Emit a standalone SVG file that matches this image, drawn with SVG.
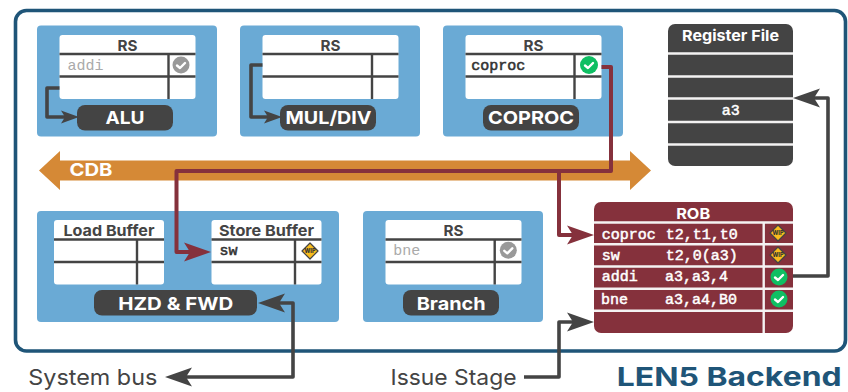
<svg xmlns="http://www.w3.org/2000/svg" width="848" height="392" viewBox="0 0 848 392">
<style>
.panel{fill:#6aaad5}
.tbl{fill:#fff}
.ln{stroke:#444;stroke-width:2.4;fill:none}
.wl{stroke:#f4f2f2;stroke-width:2.4;fill:none}
.pill{fill:#444}
text{font-family:Inter,"Liberation Sans",sans-serif;font-weight:700}
.h{font-size:15px;fill:#444;text-anchor:middle}
.hw{font-size:15px;fill:#fff;text-anchor:middle}
.p{font-size:18px;fill:#fff;text-anchor:middle}
.m{font-family:"Liberation Mono",monospace;font-size:15px;font-weight:400;fill:#333;stroke:#333;stroke-width:.55}
.mg{font-family:"Liberation Mono",monospace;font-size:15px;font-weight:400;fill:#aaa}
.mw{font-family:"Liberation Mono",monospace;font-size:15px;font-weight:400;fill:#fff;stroke:#fff;stroke-width:.5}
.lab{font-size:22px;font-weight:400;fill:#444}
.gc{stroke:#444;stroke-width:3.6;fill:none;stroke-linejoin:round}
.rc{stroke:#85313c;stroke-width:4;fill:none;stroke-linejoin:round}
.ck{stroke:#fff;stroke-width:2.4;fill:none;stroke-linecap:round;stroke-linejoin:round}
.wd{fill:#f9bc1c;stroke:#444;stroke-width:1.2;stroke-linejoin:round}
.wt{font-size:5.5px;font-weight:800;fill:#333;text-anchor:middle}
</style>
<defs>
<marker id="gs" markerUnits="userSpaceOnUse" markerWidth="20" markerHeight="14" viewBox="0 0 20 14" refX="5" refY="7" orient="auto-start-reverse"><path d="M0,.5L18,7L0,13.5L4,7z" fill="#444"/></marker>
<marker id="gb" markerUnits="userSpaceOnUse" markerWidth="28" markerHeight="20" viewBox="0 0 28 20" refX="8" refY="10" orient="auto-start-reverse"><path d="M0,.5L27,10L0,19.5L6,10z" fill="#444"/></marker>
<marker id="rb" markerUnits="userSpaceOnUse" markerWidth="28" markerHeight="20" viewBox="0 0 28 20" refX="8" refY="10" orient="auto-start-reverse"><path d="M0,.5L27,10L0,19.5L6,10z" fill="#85313c"/></marker>
</defs>

<rect id="frame" x="15.5" y="10.5" width="830" height="340.5" rx="11" fill="#fff" stroke="#1f5578" stroke-width="3.6"/>

<g id="alu-unit">
<rect class="panel" x="37" y="25.5" width="180" height="111" rx="4"/>
<rect class="tbl" x="59.5" y="35" width="136" height="64" rx="3"/>
<path class="ln" d="M59.5 54H195.5M59.5 76.5H195.5M168.5 54V99"/>
<text class="h" x="127.5" y="50.5" textLength="20" lengthAdjust="spacingAndGlyphs">RS</text>
<text class="mg" x="67.5" y="70">addi</text>
<circle cx="181" cy="65" r="8.5" fill="#999"/><path class="ck" d="M177 65.5l3 2.5l5-5"/>
<rect class="pill" x="77" y="105" width="96" height="25.5" rx="8"/>
<text class="p" x="125" y="124" textLength="39" lengthAdjust="spacingAndGlyphs">ALU</text>
</g>

<g id="muldiv-unit">
<rect class="panel" x="240" y="25.5" width="180" height="111" rx="4"/>
<rect class="tbl" x="262.5" y="35" width="136" height="64" rx="3"/>
<path class="ln" d="M262.5 54H398.5M262.5 76.5H398.5M372 54V99"/>
<text class="h" x="330.5" y="50.5" textLength="20" lengthAdjust="spacingAndGlyphs">RS</text>
<rect class="pill" x="280" y="105" width="96" height="25.5" rx="8"/>
<text class="p" x="328.5" y="124" textLength="86" lengthAdjust="spacingAndGlyphs">MUL/DIV</text>
</g>

<g id="coproc-unit">
<rect class="panel" x="443" y="25.5" width="180" height="111" rx="4"/>
<rect class="tbl" x="465.5" y="35" width="136" height="64" rx="3"/>
<path class="ln" d="M465.5 54H601.5M465.5 76.5H601.5M574.5 54V99"/>
<text class="h" x="533.5" y="50.5" textLength="20" lengthAdjust="spacingAndGlyphs">RS</text>
<text class="m" x="471.3" y="70">coproc</text>
<circle cx="589" cy="65" r="9" fill="#0fbf63"/><path class="ck" d="M585 65.5l3 2.5l5-5"/>
<rect class="pill" x="483" y="105" width="96" height="25.5" rx="8"/>
<text class="p" x="531" y="124" textLength="86" lengthAdjust="spacingAndGlyphs">COPROC</text>
</g>

<g id="register-file">
<rect class="pill" x="668" y="24" width="125" height="142" rx="7"/>
<path class="wl" d="M668 53.5H793M668 76.5H793M668 98.5H793M668 122H793M668 144.5H793"/>
<text class="hw" x="730.5" y="40.7" textLength="97" lengthAdjust="spacingAndGlyphs">Register File</text>
<text class="mw" x="721.7" y="115">a3</text>
</g>

<g id="cdb">
<path d="M39 170.5L60 151V160.5H630V151L651 170.5L630 190V180.5H60V190z" fill="#d58936"/>
<text class="p" x="91" y="176" textLength="43" lengthAdjust="spacingAndGlyphs">CDB</text>
</g>

<g id="memory-unit">
<rect class="panel" x="37" y="211" width="302" height="111" rx="4"/>
<rect class="tbl" x="54" y="220" width="110" height="64.5" rx="3"/>
<path class="ln" d="M54 239.5H164M54 262H164M137 239.5V284.5"/>
<text class="h" x="109" y="236" textLength="91" lengthAdjust="spacingAndGlyphs">Load Buffer</text>
<rect class="tbl" x="211.5" y="220" width="110" height="64.5" rx="3"/>
<path class="ln" d="M211.5 239.5H321.5M211.5 262H321.5M295 239.5V284.5"/>
<text class="h" x="266.5" y="236" textLength="95" lengthAdjust="spacingAndGlyphs">Store Buffer</text>
<text class="m" x="219.5" y="255">sw</text>
<path class="wd" d="M310 243L318 251L310 259L302 251z"/><text class="wt" x="310" y="253">WIP</text>
<rect class="pill" x="94" y="290" width="163" height="25.5" rx="8"/>
<text class="p" x="175.7" y="310" textLength="115" lengthAdjust="spacingAndGlyphs">HZD &amp; FWD</text>
</g>

<g id="branch-unit">
<rect class="panel" x="363" y="211" width="180" height="111" rx="4"/>
<rect class="tbl" x="385.5" y="220" width="136" height="64.5" rx="3"/>
<path class="ln" d="M385.5 239.5H521.5M385.5 262H521.5M494.7 239.5V284.5"/>
<text class="h" x="453.5" y="236" textLength="20" lengthAdjust="spacingAndGlyphs">RS</text>
<text class="mg" x="393.3" y="255.3">bne</text>
<circle cx="508.3" cy="250.3" r="8.5" fill="#999"/><path class="ck" d="M504.3 250.8l3 2.5l5-5"/>
<rect class="pill" x="403" y="290" width="96" height="25.5" rx="8"/>
<text class="p" x="451.2" y="310" textLength="69" lengthAdjust="spacingAndGlyphs">Branch</text>
</g>

<g id="rob">
<rect x="594" y="202" width="199" height="131" rx="7" fill="#85313c"/>
<path class="wl" d="M594 222.5H793M594 244.3H793M594 266.5H793M594 288.7H793M594 310.7H793M763.7 222.5V333"/>
<text class="hw" x="693.2" y="218.7" textLength="34" lengthAdjust="spacingAndGlyphs">ROB</text>
<text class="mw" x="601.7" y="238.7">coproc</text><text class="mw" x="665.7" y="238.7">t2,t1,t0</text>
<text class="mw" x="601.7" y="260">sw</text><text class="mw" x="665.7" y="260">t2,0(a3)</text>
<text class="mw" x="601.7" y="281.3">addi</text><text class="mw" x="665" y="281.3">a3,a3,4</text>
<text class="mw" x="601" y="303.7">bne</text><text class="mw" x="665" y="303.7">a3,a4,B0</text>
<path class="wd" d="M778 225L786 233L778 241L770 233z"/><text class="wt" x="778" y="235">WIP</text>
<path class="wd" d="M778 247L786 255L778 263L770 255z"/><text class="wt" x="778" y="257">WIP</text>
<circle cx="779" cy="277" r="8.5" fill="#0fbf63"/><path class="ck" d="M775 277.5l3 2.5l5-5"/>
<circle cx="779" cy="299" r="8.5" fill="#0fbf63"/><path class="ck" d="M775 299.5l3 2.5l5-5"/>
</g>

<g id="connectors">
<path class="gc" d="M59.5 88H47V117H66" marker-end="url(#gs)"/>
<path class="gc" d="M262.5 65H251V117H269" marker-end="url(#gs)"/>
<path class="gc" d="M793 276H828V98H812" marker-end="url(#gb)"/>
<path class="gc" d="M277 303H293V377H184" marker-start="url(#gb)" marker-end="url(#gb)"/>
<path class="gc" d="M524 377H559V322H575" marker-end="url(#gb)"/>
<path class="rc" d="M601.5 67H611V171H176.5V252H192" marker-end="url(#rb)"/>
<path class="rc" d="M559 171V235H575" marker-end="url(#rb)"/>
</g>

<g id="labels">
<text class="lab" x="28.3" y="385" textLength="129" lengthAdjust="spacingAndGlyphs">System bus</text>
<text class="lab" x="390.5" y="385" textLength="126" lengthAdjust="spacingAndGlyphs">Issue Stage</text>
<text x="616.7" y="385.7" font-size="26" font-weight="800" fill="#1f5578" textLength="225" lengthAdjust="spacingAndGlyphs">LEN5 Backend</text>
</g>
</svg>
